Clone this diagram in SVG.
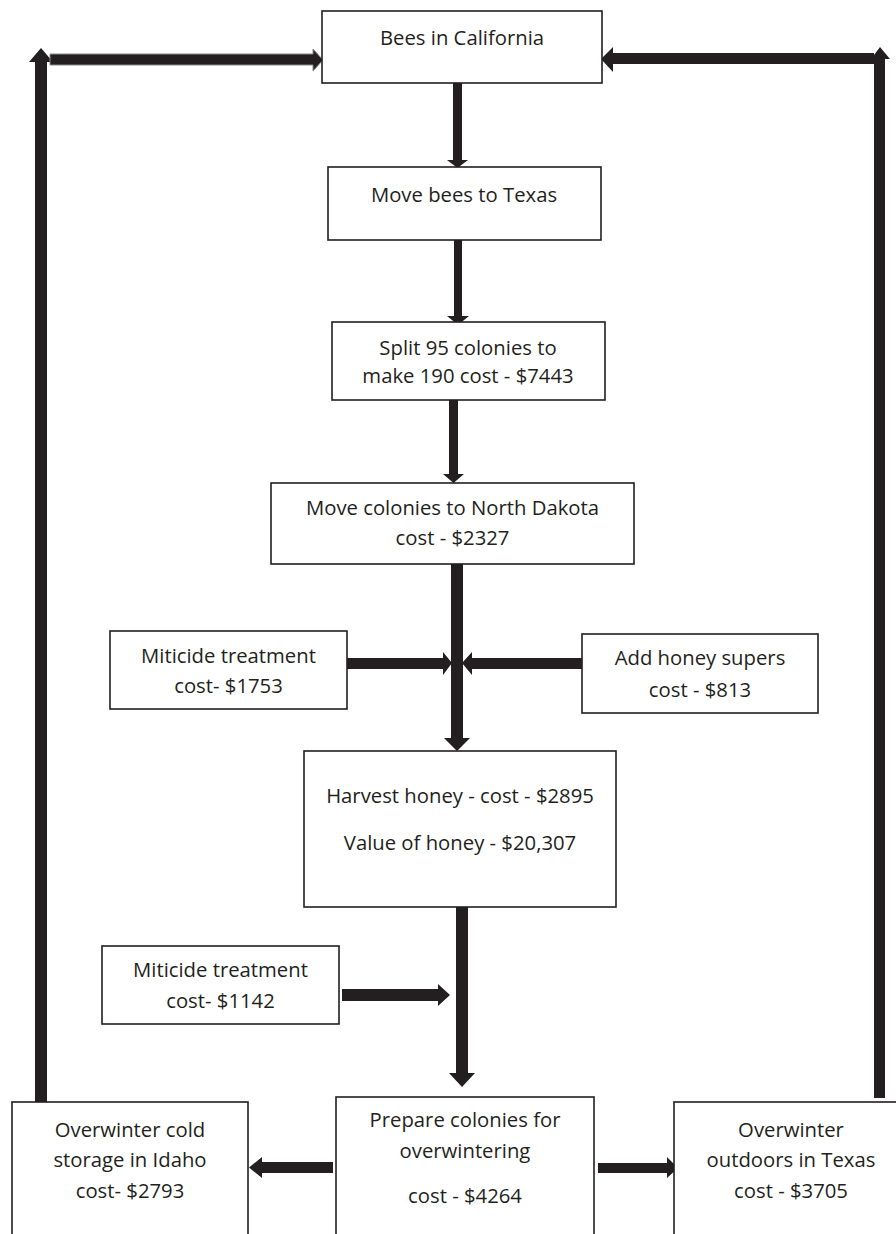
<svg xmlns="http://www.w3.org/2000/svg" width="896" height="1234" viewBox="0 0 896 1234">
<style>
.box{fill:#fff;stroke:#231f20;stroke-width:1.6}
.t{font-family:"Open Sans","Liberation Sans",sans-serif;font-size:20.3px;fill:#231f20;text-anchor:middle}
.a{fill:#231f20;stroke:none}
.ag{fill:#231f20;stroke:#8a8a8a;stroke-width:1}
</style>
<rect width="896" height="1234" fill="#fff"/>
<g id="connectors">
  <!-- left loop -->
  <polygon class="a" points="35,1102 35,62 29,62 41,48 53,62 47,62 47,1102"/>
  <polygon class="ag" points="50,54 313,54 313,49 323,60 313,71 313,65 50,65"/>
  <!-- right loop -->
  <polygon class="a" points="874,1098 874,59 871,59 880,47 890,59 885,59 885,1098"/>
  <polygon class="a" points="874,53 613,53 613,47 601,59 613,72 613,64 874,64"/>
  <!-- vertical chain -->
  <polygon class="a" points="453,83 462,83 462,160 468,160 457.5,168 447,160 453,160"/>
  <polygon class="a" points="454,240 462,240 462,316 469,316 458,325 447,316 454,316"/>
  <polygon class="a" points="449,400 458,400 458,474 464,474 453.5,483 443,474 449,474"/>
  <polygon class="a" points="451,564 463,564 463,738 470,738 457,751 444,738 451,738"/>
  <polygon class="a" points="456,907 468,907 468,1073 475,1073 462,1087 449,1073 456,1073"/>
  <!-- side inputs -->
  <polygon class="a" points="347,658 443,658 443,652 452,663 443,675 443,669 347,669"/>
  <polygon class="a" points="582,658 472,658 472,652 462,663 472,675 472,669 582,669"/>
  <polygon class="a" points="342,989 438,989 438,984 450,995 438,1006 438,1001 342,1001"/>
  <!-- bottom outputs -->
  <polygon class="a" points="333,1162 262,1162 262,1157 249,1167.5 262,1178 262,1173 333,1173"/>
  <polygon class="a" points="598,1163 667,1163 667,1157 678,1168 667,1178 667,1173 598,1173"/>
</g>
<g id="bees-california">
  <rect class="box" x="322" y="11" width="280" height="72"/>
  <text class="t" x="462" y="45">Bees in California</text>
</g>
<g id="move-texas">
  <rect class="box" x="328" y="167" width="273" height="73"/>
  <text class="t" x="464" y="202">Move bees to Texas</text>
</g>
<g id="split">
  <rect class="box" x="332" y="322" width="273" height="78"/>
  <text class="t" x="468" y="355">Split 95 colonies to</text>
  <text class="t" x="468" y="383">make 190 cost - $7443</text>
</g>
<g id="move-nd">
  <rect class="box" x="271" y="483" width="363" height="81"/>
  <text class="t" x="452.5" y="515">Move colonies to North Dakota</text>
  <text class="t" x="452.5" y="545">cost - $2327</text>
</g>
<g id="miticide-1">
  <rect class="box" x="110" y="631" width="237" height="78"/>
  <text class="t" x="228.5" y="663">Miticide treatment</text>
  <text class="t" x="228.5" y="693">cost- $1753</text>
</g>
<g id="honey-supers">
  <rect class="box" x="582" y="634" width="236" height="79"/>
  <text class="t" x="700" y="665">Add honey supers</text>
  <text class="t" x="700" y="697">cost - $813</text>
</g>
<g id="harvest">
  <rect class="box" x="304" y="751" width="312" height="156"/>
  <text class="t" x="460" y="803">Harvest honey - cost - $2895</text>
  <text class="t" x="460" y="850">Value of honey - $20,307</text>
</g>
<g id="miticide-2">
  <rect class="box" x="102" y="946" width="237" height="78"/>
  <text class="t" x="220.5" y="977">Miticide treatment</text>
  <text class="t" x="220.5" y="1008">cost- $1142</text>
</g>
<g id="prepare">
  <rect class="box" x="336" y="1097" width="258" height="150"/>
  <text class="t" x="465" y="1127">Prepare colonies for</text>
  <text class="t" x="465" y="1158">overwintering</text>
  <text class="t" x="465" y="1203">cost - $4264</text>
</g>
<g id="overwinter-idaho">
  <rect class="box" x="12" y="1102" width="236" height="150"/>
  <text class="t" x="130" y="1137">Overwinter cold</text>
  <text class="t" x="130" y="1167">storage in Idaho</text>
  <text class="t" x="130" y="1198">cost- $2793</text>
</g>
<g id="overwinter-texas">
  <rect class="box" x="674" y="1102" width="234" height="150"/>
  <text class="t" x="791" y="1137">Overwinter</text>
  <text class="t" x="791" y="1167">outdoors in Texas</text>
  <text class="t" x="791" y="1198">cost - $3705</text>
</g>
</svg>
